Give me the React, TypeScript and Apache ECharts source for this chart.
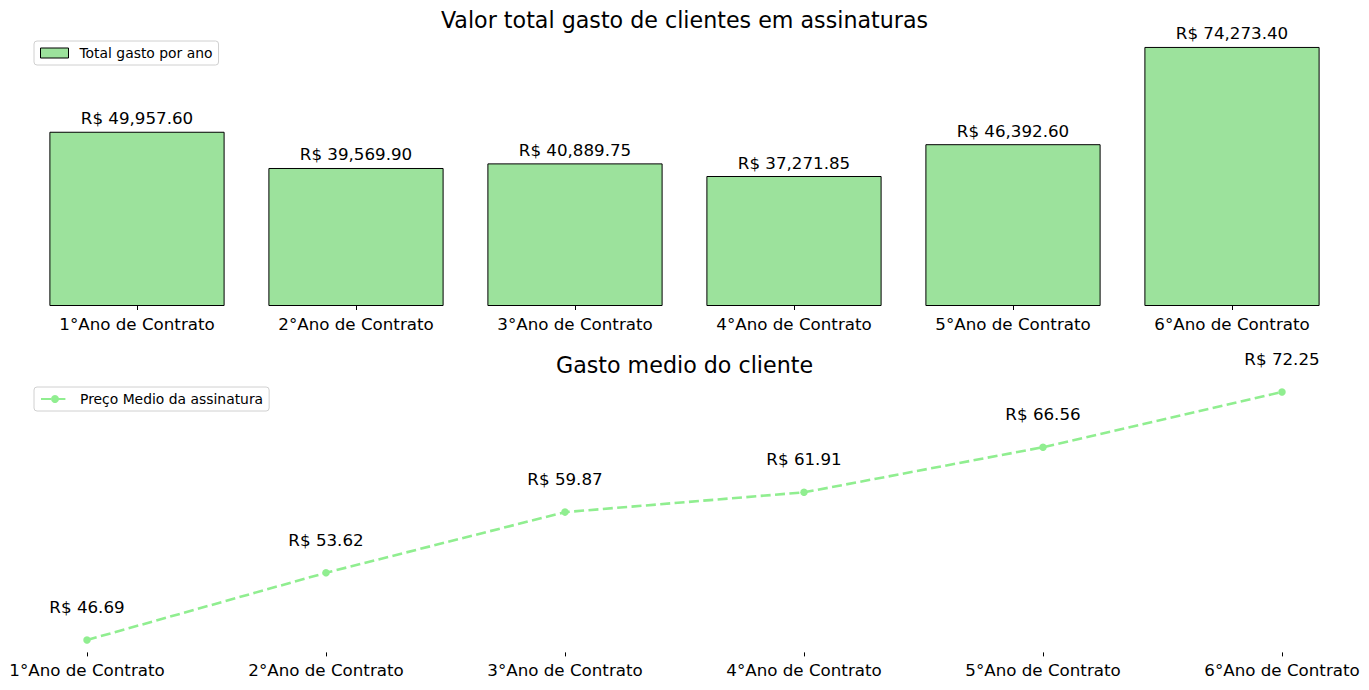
import React, { useEffect, useRef } from "react";
import * as echarts from "echarts";

const categories = [
  "1°Ano de Contrato",
  "2°Ano de Contrato",
  "3°Ano de Contrato",
  "4°Ano de Contrato",
  "5°Ano de Contrato",
  "6°Ano de Contrato",
];
const totalSpent = [49957.6, 39569.9, 40889.75, 37271.85, 46392.6, 74273.4];
const avgPrice = [46.69, 53.62, 59.87, 61.91, 66.56, 72.25];

const FONT = "DejaVu Sans";
const fmt = (v: number) =>
  "R$ " + v.toLocaleString("en-US", { minimumFractionDigits: 2, maximumFractionDigits: 2 });

export default function App() {
  const ref = useRef<HTMLDivElement>(null);
  useEffect(() => {
    if (!ref.current) return;
    const chart = echarts.init(ref.current, undefined, { renderer: "svg" });
    const maxBar = Math.max(...totalSpent) * 1.05;
    const lo = Math.min(...avgPrice);
    const hi = Math.max(...avgPrice);
    const pad = (hi - lo) * 0.05;
    const axisCommon = {
      axisLine: { show: false },
      axisTick: { show: true, alignWithLabel: true, length: 4, lineStyle: { color: "#000", width: 1 } },
      axisLabel: { color: "#000", fontSize: 16.7, fontFamily: FONT, margin: 9 },
      splitLine: { show: false },
    };
    const legendCommon = {
      left: 34,
      orient: "vertical",
      itemWidth: 28,
      itemHeight: 10,
      padding: [5, 6, 5, 6],
      borderColor: "#d0d0d0",
      borderWidth: 1,
      borderRadius: 3,
      textStyle: { fontSize: 13.9, color: "#000", fontFamily: FONT, padding: [0, 0, 0, 6] },
    };
    chart.setOption({
      animation: false,
      textStyle: { fontFamily: FONT },
      title: [
        {
          text: "Valor total gasto de clientes em assinaturas",
          left: "center",
          top: 4,
          textStyle: { fontSize: 22.2, fontWeight: "normal", color: "#000", fontFamily: FONT },
        },
        {
          text: "Gasto medio do cliente",
          left: "center",
          top: 349,
          textStyle: { fontSize: 22.2, fontWeight: "normal", color: "#000", fontFamily: FONT },
        },
      ],
      legend: [
        {
          ...legendCommon,
          top: 41,
          data: [{ name: "Total gasto por ano", icon: "rect" }],
          itemStyle: { borderWidth: 1, borderColor: "#000" },
        },
        {
          ...legendCommon,
          top: 387,
          data: ["Preço Medio da assinatura"],
        },
      ],
      grid: [
        { left: 27.5, width: 1314, top: 34, height: 272 },
        { left: 87, width: 1195, top: 379.6, height: 272.8 },
      ],
      xAxis: [
        { type: "category", gridIndex: 0, data: categories, boundaryGap: true, ...axisCommon },
        { type: "category", gridIndex: 1, data: categories, boundaryGap: false, ...axisCommon },
      ],
      yAxis: [
        { type: "value", gridIndex: 0, min: 0, max: maxBar, show: false },
        { type: "value", gridIndex: 1, min: lo - pad, max: hi + pad, show: false },
      ],
      series: [
        {
          name: "Total gasto por ano",
          type: "bar",
          xAxisIndex: 0,
          yAxisIndex: 0,
          data: totalSpent,
          barWidth: "80%",
          itemStyle: { color: "#9ce29c", borderColor: "#000", borderWidth: 1 },
          label: {
            show: true,
            position: "top",
            distance: 5,
            fontSize: 16.7,
            color: "#000",
            fontFamily: FONT,
            formatter: (p: any) => fmt(p.value),
          },
        },
        {
          name: "Preço Medio da assinatura",
          type: "line",
          xAxisIndex: 1,
          yAxisIndex: 1,
          data: avgPrice,
          symbol: "circle",
          symbolSize: 7.5,
          itemStyle: { color: "#90ee90" },
          lineStyle: { color: "#90ee90", width: 2.6, type: [10, 4.4] },
          label: {
            show: true,
            position: "top",
            distance: 21,
            fontSize: 16.7,
            color: "#000",
            fontFamily: FONT,
            formatter: (p: any) => fmt(p.value),
          },
        },
      ],
    });
    return () => chart.dispose();
  }, []);
  return (
    <div
      ref={ref}
      style={{ position: "fixed", left: 0, top: 0, width: 1369, height: 690, background: "#fff" }}
    />
  );
}
